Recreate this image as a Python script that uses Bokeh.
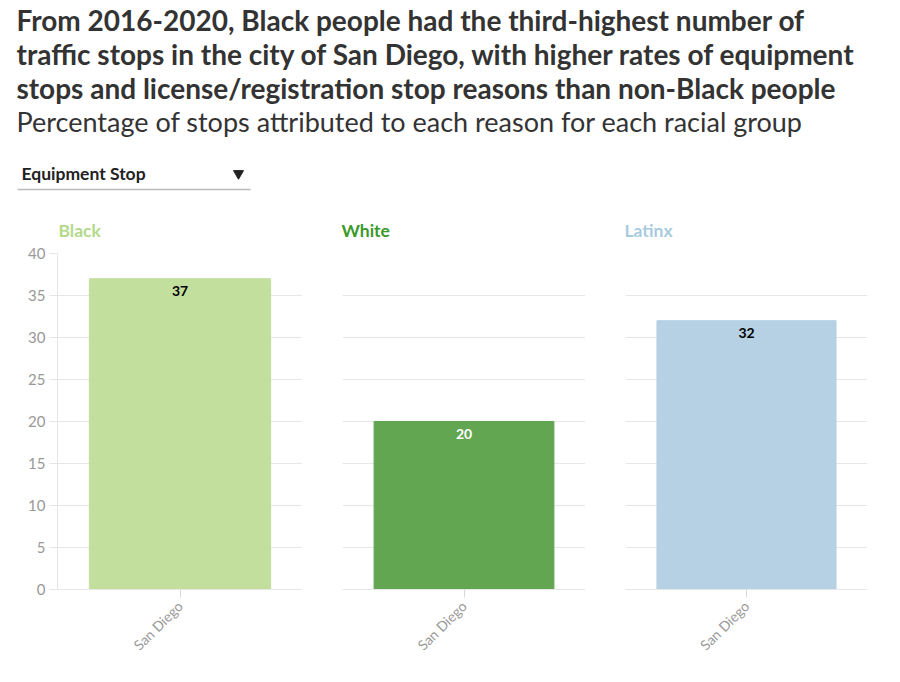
from bokeh.plotting import figure
from bokeh.layouts import column, row
from bokeh.models import Range1d, FixedTicker, ColumnDataSource
from bokeh.core.properties import value
from bokeh.embed import file_html
from bokeh.resources import INLINE

# ---------------- data ----------------
title_lines = [
    "From 2016-2020, Black people had the third-highest number of",
    "traffic stops in the city of San Diego, with higher rates of equipment",
    "stops and license/registration stop reasons than non-Black people",
]
subtitle = "Percentage of stops attributed to each reason for each racial group"
dropdown_label = "Equipment Stop"
groups = ["Black", "White", "Latinx"]
cities = ["San Diego"]
values = [37, 20, 32]
value_labels = ["37", "20", "32"]
y_ticks = [0, 5, 10, 15, 20, 25, 30, 35, 40]
bar_colors = ["#c2df9e", "#63a651", "#b5d1e3"]
group_label_colors = ["#b2d98a", "#3b9a2b", "#a8cbe0"]
label_text_colors = ["#000000", "#ffffff", "#000000"]

FONT = "Lato"

# ---------------- header ----------------
HW, HH = 884, 245
header = figure(width=HW, height=HH, x_range=Range1d(0, HW), y_range=Range1d(HH, 0),
                x_axis_location=None, y_axis_location=None, toolbar_location=None,
                output_backend="svg", min_border=0, outline_line_color=None)
header.grid.visible = False

header.text(x=[16, 16, 16], y=[19, 53, 87], text=title_lines,
            text_font=value(FONT), text_font_style="bold", text_font_size="28px",
            text_color="#333333", text_baseline="middle", text_align="left")
header.text(x=[16], y=[121], text=[subtitle],
            text_font=value(FONT), text_font_size="27px",
            text_color="#333333", text_baseline="middle", text_align="left")
header.text(x=[21], y=[173], text=[dropdown_label],
            text_font=value(FONT), text_font_style="bold", text_font_size="17.5px",
            text_color="#222222", text_baseline="middle", text_align="left")
header.scatter(x=[238], y=[173], marker="inverted_triangle", size=10,
               fill_color="#222222", line_color="#222222")
header.segment(x0=[17], y0=[189], x1=[250], y1=[189], line_color="#bbbbbb", line_width=1.5)
header.text(x=[58, 341, 624], y=[230, 230, 230], text=groups,
            text_font=value(FONT), text_font_style="bold", text_font_size="17.5px",
            text_color=group_label_colors, text_baseline="middle", text_align="left")

# ---------------- panels ----------------
panels = []
specs = [  # (min_border_left, frame_width, min_border_right, show y axis)
    (57, 245, 0, True),
    (40, 243, 0, False),
    (40, 242, 17, False),
]
for i, g in enumerate(groups):
    bl, fw, br, show_y = specs[i]
    p = figure(x_range=cities, y_range=Range1d(0, 40), frame_width=fw, frame_height=336,
               min_border_left=bl, min_border_right=br, min_border_top=8, min_border_bottom=85,
               toolbar_location=None, output_backend="svg", outline_line_color=None)
    src = ColumnDataSource(dict(city=cities, val=[values[i]], lbl=[value_labels[i]]))
    p.vbar(x="city", top="val", width=0.74, source=src,
           fill_color=bar_colors[i], line_color=bar_colors[i], line_width=1)
    p.text(x="city", y="val", text="lbl", source=src, y_offset=7,
           text_font=value(FONT), text_font_style="bold", text_font_size="14px",
           text_color=label_text_colors[i], text_align="center", text_baseline="top")
    p.xgrid.visible = False
    p.ygrid.ticker = FixedTicker(ticks=y_ticks)
    p.ygrid.grid_line_color = "#e6e6e6"
    p.yaxis.ticker = FixedTicker(ticks=y_ticks)
    p.yaxis.axis_line_color = "#e6e6e6"
    p.yaxis.major_tick_line_color = "#e6e6e6"
    p.yaxis.major_tick_out = 8
    p.yaxis.major_tick_in = 0
    p.yaxis.minor_tick_line_color = None
    p.yaxis.major_label_text_font = FONT
    p.yaxis.major_label_text_font_size = "15px"
    p.yaxis.major_label_text_color = "#999999"
    p.yaxis.major_label_standoff = 4
    if not show_y:
        p.yaxis.visible = False
    p.xaxis.axis_line_color = "#e6e6e6"
    p.xaxis.major_tick_line_color = "#d8d8d8"
    p.xaxis.major_tick_out = 8
    p.xaxis.major_tick_in = 0
    p.xaxis.major_label_orientation = 0.785
    p.xaxis.major_label_text_font = FONT
    p.xaxis.major_label_text_font_size = "14px"
    p.xaxis.major_label_text_color = "#999999"
    p.xaxis.major_label_standoff = 6
    p.x_range.range_padding = 0
    panels.append(p)

layout = column(header, row(*panels, spacing=0), spacing=0)
open("out.html", "w").write(file_html(layout, INLINE))
